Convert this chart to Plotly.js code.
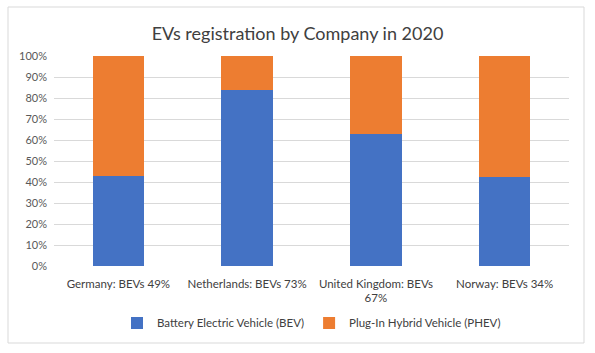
<!DOCTYPE html>
<html>
<head>
<meta charset="utf-8">
<script src="https://cdn.plot.ly/plotly-3.0.1.min.js"></script>
<style>html,body{margin:0;padding:0;background:#fff;}#chart{width:595px;height:353px;}</style>
</head>
<body>
<div id="chart"></div>
<script>
const categories = ["Germany: BEVs 49%", "Netherlands: BEVs 73%", "United Kingdom: BEVs<br>67%", "Norway: BEVs 34%"];
const bevShare = [43, 84, 63, 42.5];
const phevShare = [57, 16, 37, 57.5];
const tickVals = [0, 10, 20, 30, 40, 50, 60, 70, 80, 90, 100];
const tickText = ["0%", "10%", "20%", "30%", "40%", "50%", "60%", "70%", "80%", "90%", "100%"];

const FONT = "Lato, 'Open Sans', sans-serif";
const data = [
  {type: "bar", name: "Battery Electric Vehicle (BEV)", x: categories, y: bevShare,
   marker: {color: "#4472c4"}, hoverinfo: "none"},
  {type: "bar", name: "Plug-In Hybrid Vehicle (PHEV)", x: categories, y: phevShare,
   marker: {color: "#ed7d31"}, hoverinfo: "none"}
];
const layout = {
  width: 595, height: 353,
  margin: {l: 54, r: 26, t: 56, b: 87},
  barmode: "stack", bargap: 0.6,
  paper_bgcolor: "#fff", plot_bgcolor: "#fff",
  font: {family: FONT, color: "#595959", size: 11},
  title: {text: "EVs registration by Company in 2020", x: 0.5, xanchor: "center",
          y: 1 - 34/353, yanchor: "middle", yref: "container",
          font: {family: FONT, size: 18, color: "#404040"}},
  xaxis: {type: "category", showgrid: false, showline: false, ticks: "", zeroline: false,
          ticklabelstandoff: 9,
          tickfont: {family: FONT, size: 11.5, color: "#404040"}},
  yaxis: {range: [0, 100], tickvals: tickVals, ticktext: tickText, showgrid: true,
          gridcolor: "#d9d9d9", gridwidth: 1, zeroline: false, showline: false, ticks: "",
          ticklabelstandoff: 6, tickfont: {family: FONT, size: 11, color: "#595959"}},
  legend: {orientation: "h", x: 0.5, xanchor: "center", y: -0.271, yanchor: "middle",
           font: {family: FONT, size: 11.5, color: "#404040"}, itemwidth: 30, traceorder: "normal"},
  shapes: [{type: "rect", xref: "paper", yref: "paper",
            x0: (8-54)/515, x1: (584-54)/515, y0: (266-343)/210, y1: (266-7)/210,
            line: {color: "#d9d9d9", width: 1}, fillcolor: "rgba(0,0,0,0)", layer: "below"}]
};
Plotly.newPlot("chart", data, layout, {staticPlot: true, displayModeBar: false});
</script>
</body>
</html>
